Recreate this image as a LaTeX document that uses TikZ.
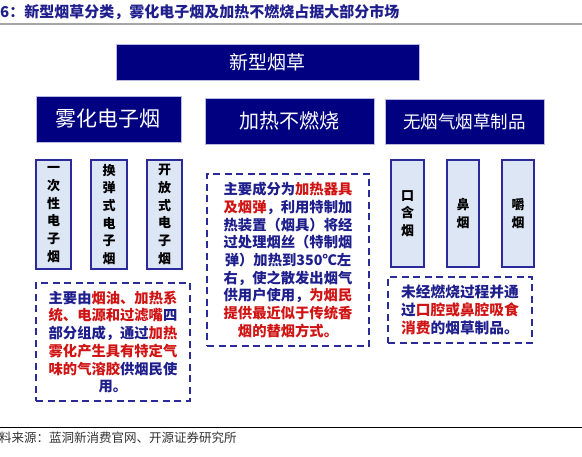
\documentclass[tikz,border=0pt]{standalone}
\usepackage{fontspec}
\setmainfont{Noto Sans CJK SC}
\definecolor{marine}{HTML}{000080}
\definecolor{lavande}{HTML}{B8B8E0}
\definecolor{bleufonce}{HTML}{2A2A9A}
\definecolor{bleuclair}{HTML}{DCE6F4}
\definecolor{texteb}{HTML}{1E1E8C}
\definecolor{texter}{HTML}{D01414}
\newcommand{\enrouge}[1]{\textcolor{texter}{#1}}
\tikzset{
  titre/.style={draw=lavande, fill=marine, text=white, line width=0.8pt, inner sep=0pt},
  colonne/.style={draw=bleufonce, fill=bleuclair, line width=1.3pt, inner sep=0pt,
    align=center, text=black, font=\bfseries\fontsize{13}{17.7}\selectfont},
  cadre/.style={draw=bleufonce, line width=1.8pt, dash pattern=on 7pt off 4.5pt,
    inner sep=0pt, align=center, text=texteb, font=\bfseries\fontsize{14.3}{17.7}\selectfont}
}
\begin{document}
\begin{tikzpicture}[x=1pt, y=-1pt]
  \useasboundingbox (0,0) rectangle (582,457);

  % Le titre
  \node[anchor=west, text=texteb, font=\bfseries\fontsize{15}{15}\selectfont, inner sep=0pt] (entete) at (0,12)
    {6：新型烟草分类，雾化电子烟及加热不燃烧占据大部分市场};
  \draw[gray!70, line width=2pt] (0,24) -- (582,24);

  % Les titres
  \node[titre, minimum width=303pt, minimum height=36pt, font=\fontsize{19}{19}\selectfont] (racine) at (267.5,62) {新型烟草};
  \node[titre, minimum width=145pt, minimum height=46pt, font=\fontsize{21}{21}\selectfont] (atom) at (108.5,119) {雾化电子烟};
  \node[titre, minimum width=169pt, minimum height=46pt, font=\fontsize{20}{20}\selectfont] (chauffe) at (289.5,121) {加热不燃烧};
  \node[titre, minimum width=159pt, minimum height=45pt, font=\fontsize{17.5}{17.5}\selectfont] (sansfumee) at (464.5,121.5) {无烟气烟草制品};

  % Les colonnes
  \node[colonne, minimum width=35pt, minimum height=109pt] (jetable) at (53.5,214.5) {一\\次\\性\\电\\子\\烟};
  \node[colonne, minimum width=36pt, minimum height=109pt] (recharge) at (109,214.5) {换\\弹\\式\\电\\子\\烟};
  \node[colonne, minimum width=35pt, minimum height=109pt] (ouvert) at (164.5,214.5) {开\\放\\式\\电\\子\\烟};
  \node[colonne, minimum width=33pt, minimum height=107pt] (oral) at (407.5,213.5) {口\\含\\烟};
  \node[colonne, minimum width=32pt, minimum height=107pt] (nasal) at (463,213.5) {鼻\\烟};
  \node[colonne, minimum width=32pt, minimum height=107pt] (macher) at (518,213.5) {嚼\\烟};

  % Les cadres
  \node[cadre, minimum width=154pt, minimum height=118pt] (descatom) at (113,342)
    {主要由\enrouge{烟油、加热系}\\
     \enrouge{统、电源和过滤嘴}四\\
     部分组成，通过\enrouge{加热}\\
     \enrouge{雾化产生具有特定气}\\
     \enrouge{味的气溶胶}供烟民使\\
     用。};
  \node[cadre, minimum width=162pt, minimum height=172pt] (descchauffe) at (288,260)
    {主要成分为\enrouge{加热器具}\\
     \enrouge{及烟弹}，利用特制加\\
     热装置（烟具）将经\\
     过处理烟丝（特制烟\\
     弹）加热到350℃左\\
     右，使之散发出烟气\\
     供用户使用，\enrouge{为烟民}\\
     \enrouge{提供最近似于传统香}\\
     \enrouge{烟的替烟方式。}};
  \node[cadre, minimum width=144pt, minimum height=66pt, font=\bfseries\fontsize{14.7}{18}\selectfont] (descsansfumee) at (460,310)
    {未经燃烧过程并通\\
     过\enrouge{口腔或鼻腔吸食}\\
     \enrouge{消费}的烟草制品。};

  % La source
  \draw[black, line width=0.8pt] (0,427) -- (582,427);
  \node[anchor=west, inner sep=0pt, text=black!80, font=\fontsize{12.5}{12.5}\selectfont] (source) at (-1,438)
    {料来源：蓝洞新消费官网、开源证券研究所};
\end{tikzpicture}
\end{document}
